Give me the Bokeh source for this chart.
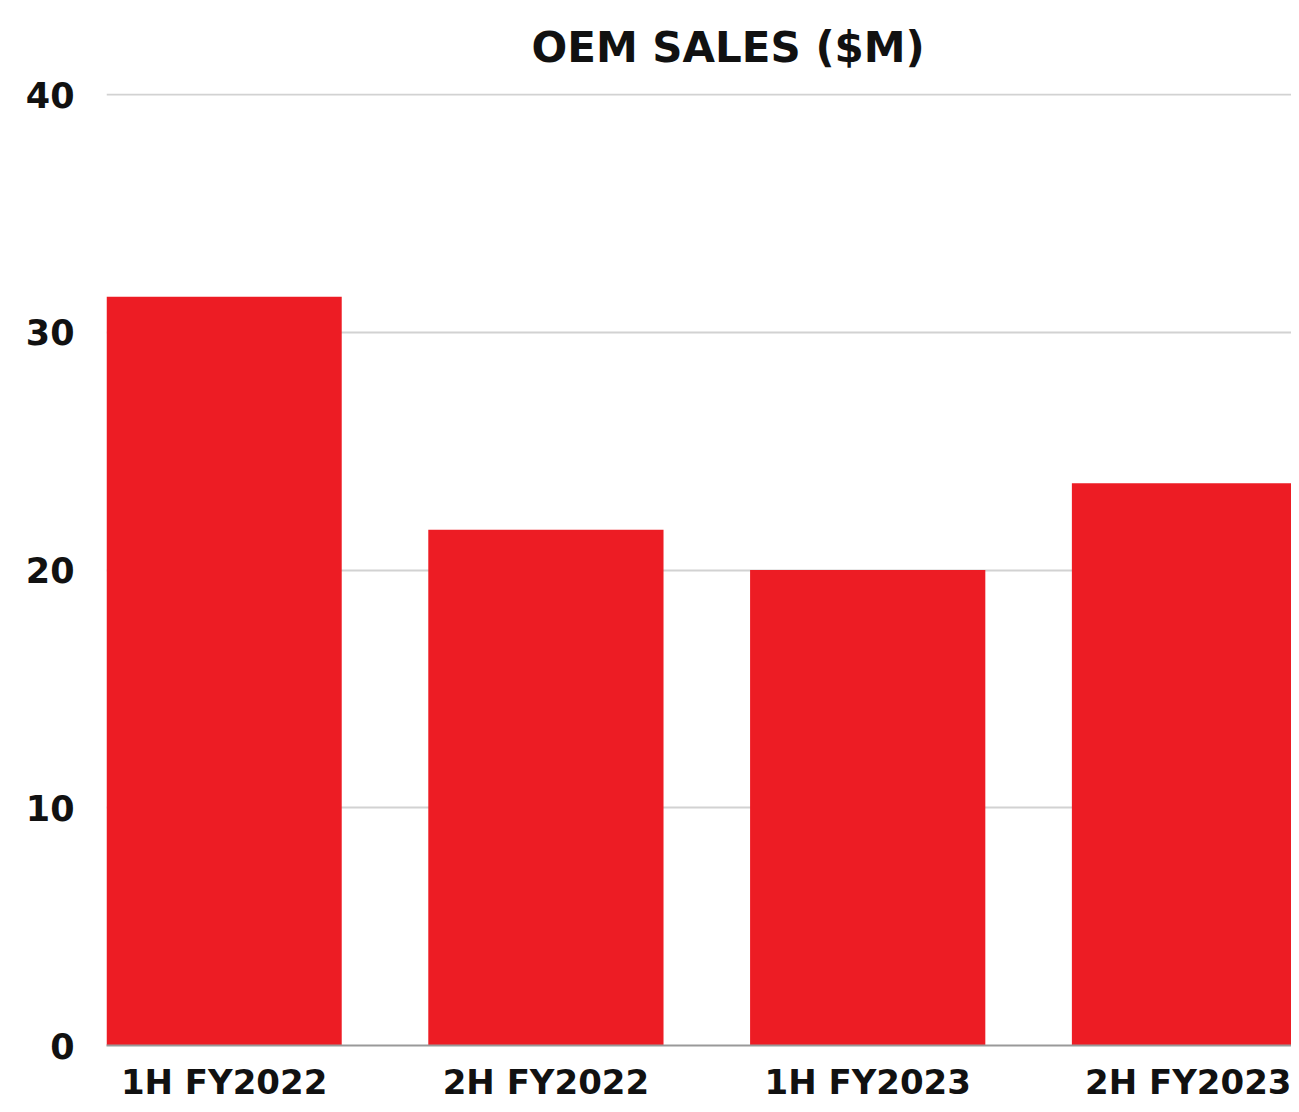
from bokeh.plotting import figure
from bokeh.models import FixedTicker, Range1d, ColumnDataSource
from bokeh.embed import file_html
from bokeh.resources import INLINE

categories = ["1H FY2022", "2H FY2022", "1H FY2023", "2H FY2023"]
sales = [31.5, 21.7, 20.0, 23.65]
y_ticks = [0, 10, 20, 30, 40]

xs = list(range(len(categories)))
src = ColumnDataSource(dict(x=xs, top=sales, cat=categories))

FONT = "DejaVu Sans"

p = figure(width=1291, height=1104, output_backend="svg", toolbar_location=None,
           x_range=Range1d(-0.3655, 3.317), y_range=Range1d(0, 40.05),
           min_border_left=106, min_border_right=0, min_border_top=93, min_border_bottom=58,
           title="OEM SALES ($M)")
p.outline_line_color = None
p.background_fill_color = "white"
p.border_fill_color = "white"

p.vbar(x="x", top="top", width=0.731, bottom=0, source=src, color="#ED1C24", line_color=None)

p.title.text_font = FONT
p.title.text_font_size = "42px"
p.title.text_font_style = "bold"
p.title.text_color = "#111111"
p.title.align = "left"
p.title.vertical_align = "top"
p.title.offset = 425
p.title.standoff = 40

p.xaxis.ticker = FixedTicker(ticks=xs)
p.xaxis.major_label_overrides = {i: c for i, c in zip(xs, categories)}
p.yaxis.ticker = FixedTicker(ticks=y_ticks)

for ax in (p.xaxis, p.yaxis):
    ax.major_tick_line_color = None
    ax.minor_tick_line_color = None
    ax.major_tick_out = 0
    ax.major_tick_in = 0
    ax.major_label_text_font = FONT
    ax.major_label_text_font_style = "bold"
    ax.major_label_text_color = "#111111"

p.yaxis.major_label_text_font_size = "35px"
p.yaxis.axis_line_color = None
p.yaxis.major_label_standoff = 32

p.xaxis.major_label_text_font_size = "34px"
p.xaxis.major_label_standoff = 16
p.xaxis.axis_line_color = "#999999"
p.xaxis.axis_line_width = 2

p.xgrid.grid_line_color = None
p.ygrid.grid_line_color = "#d2d2d2"
p.ygrid.grid_line_width = 2

open("out.html", "w").write(file_html(p, INLINE))
